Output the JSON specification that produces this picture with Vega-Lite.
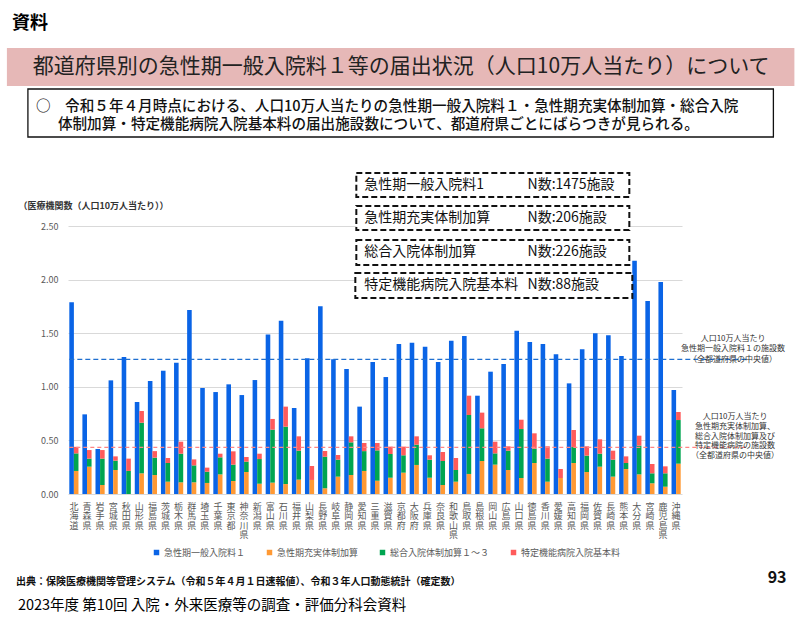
{
  "$schema": "https://vega.github.io/schema/vega-lite/v6.json",
  "autosize": {"type": "none"},
  "width": 614,
  "height": 268,
  "padding": {"left": 68, "top": 226, "right": 123, "bottom": 132},
  "background": "white",
  "config": {"view": {"stroke": null}, "font": "Noto Sans CJK JP", "text": {"font": "Noto Sans CJK JP"}},
  "resolve": {"axis": {"x": "independent", "y": "independent"}},
  "datasets": {
    "main": [
      {"pref": "北海道", "ippan": 1.788, "jujitsu": 0.215, "sogo": 0.164, "tokutei": 0.061},
      {"pref": "青森県", "ippan": 0.743, "jujitsu": 0.255, "sogo": 0.075, "tokutei": 0.08},
      {"pref": "岩手県", "ippan": 0.42, "jujitsu": 0.084, "sogo": 0.246, "tokutei": 0.08},
      {"pref": "宮城県", "ippan": 1.06, "jujitsu": 0.224, "sogo": 0.087, "tokutei": 0.04},
      {"pref": "秋田県", "ippan": 1.278, "jujitsu": 0, "sogo": 0.215, "tokutei": 0.115},
      {"pref": "山形県", "ippan": 0.858, "jujitsu": 0.193, "sogo": 0.472, "tokutei": 0.109},
      {"pref": "福島県", "ippan": 1.054, "jujitsu": 0.177, "sogo": 0.162, "tokutei": 0.061},
      {"pref": "茨城県", "ippan": 1.15, "jujitsu": 0.115, "sogo": 0.174, "tokutei": 0.047},
      {"pref": "栃木県", "ippan": 1.225, "jujitsu": 0.109, "sogo": 0.267, "tokutei": 0.112},
      {"pref": "群馬県", "ippan": 1.716, "jujitsu": 0.109, "sogo": 0.158, "tokutei": 0.056},
      {"pref": "埼玉県", "ippan": 0.989, "jujitsu": 0.103, "sogo": 0.105, "tokutei": 0.038},
      {"pref": "千葉県", "ippan": 0.951, "jujitsu": 0.183, "sogo": 0.159, "tokutei": 0.034},
      {"pref": "東京都", "ippan": 1.023, "jujitsu": 0.121, "sogo": 0.153, "tokutei": 0.124},
      {"pref": "神奈川県", "ippan": 0.923, "jujitsu": 0.205, "sogo": 0.097, "tokutei": 0.043},
      {"pref": "新潟県", "ippan": 1.063, "jujitsu": 0.096, "sogo": 0.23, "tokutei": 0.05},
      {"pref": "富山県", "ippan": 1.489, "jujitsu": 0.106, "sogo": 0.494, "tokutei": 0.1},
      {"pref": "石川県", "ippan": 1.617, "jujitsu": 0.093, "sogo": 0.535, "tokutei": 0.187},
      {"pref": "福井県", "ippan": 0.802, "jujitsu": 0.134, "sogo": 0.27, "tokutei": 0.134},
      {"pref": "山梨県", "ippan": 1.266, "jujitsu": 0.131, "sogo": 0, "tokutei": 0.13},
      {"pref": "長野県", "ippan": 1.751, "jujitsu": 0.053, "sogo": 0.295, "tokutei": 0.052},
      {"pref": "岐阜県", "ippan": 1.256, "jujitsu": 0.162, "sogo": 0.158, "tokutei": 0.044},
      {"pref": "静岡県", "ippan": 1.166, "jujitsu": 0.177, "sogo": 0.305, "tokutei": 0.056},
      {"pref": "愛知県", "ippan": 0.815, "jujitsu": 0.215, "sogo": 0.185, "tokutei": 0.076},
      {"pref": "三重県", "ippan": 1.231, "jujitsu": 0.124, "sogo": 0.283, "tokutei": 0.069},
      {"pref": "滋賀県", "ippan": 1.091, "jujitsu": 0.152, "sogo": 0.221, "tokutei": 0.069},
      {"pref": "京都府", "ippan": 1.399, "jujitsu": 0.199, "sogo": 0.162, "tokutei": 0.081},
      {"pref": "大阪府", "ippan": 1.412, "jujitsu": 0.271, "sogo": 0.189, "tokutei": 0.078},
      {"pref": "兵庫県", "ippan": 1.374, "jujitsu": 0.152, "sogo": 0.168, "tokutei": 0.041},
      {"pref": "奈良県", "ippan": 1.231, "jujitsu": 0.084, "sogo": 0.224, "tokutei": 0.084},
      {"pref": "和歌山県", "ippan": 1.43, "jujitsu": 0.115, "sogo": 0.109, "tokutei": 0.112},
      {"pref": "鳥取県", "ippan": 1.474, "jujitsu": 0.187, "sogo": 0.55, "tokutei": 0.18},
      {"pref": "島根県", "ippan": 0.917, "jujitsu": 0.308, "sogo": 0.305, "tokutei": 0.146},
      {"pref": "岡山県", "ippan": 1.141, "jujitsu": 0.274, "sogo": 0.105, "tokutei": 0.109},
      {"pref": "広島県", "ippan": 1.213, "jujitsu": 0.224, "sogo": 0.18, "tokutei": 0.041},
      {"pref": "山口県", "ippan": 1.524, "jujitsu": 0.149, "sogo": 0.457, "tokutei": 0.087},
      {"pref": "徳島県", "ippan": 1.418, "jujitsu": 0.289, "sogo": 0.134, "tokutei": 0.143},
      {"pref": "香川県", "ippan": 1.399, "jujitsu": 0.115, "sogo": 0.215, "tokutei": 0.115},
      {"pref": "愛媛県", "ippan": 1.303, "jujitsu": 0.149, "sogo": 0, "tokutei": 0.084},
      {"pref": "高知県", "ippan": 1.032, "jujitsu": 0.289, "sogo": 0.149, "tokutei": 0.159},
      {"pref": "福岡県", "ippan": 1.35, "jujitsu": 0.205, "sogo": 0.153, "tokutei": 0.087},
      {"pref": "佐賀県", "ippan": 1.499, "jujitsu": 0.255, "sogo": 0.121, "tokutei": 0.134},
      {"pref": "長崎県", "ippan": 1.48, "jujitsu": 0.162, "sogo": 0.158, "tokutei": 0.084},
      {"pref": "熊本県", "ippan": 1.287, "jujitsu": 0.233, "sogo": 0.056, "tokutei": 0.062},
      {"pref": "大分県", "ippan": 2.177, "jujitsu": 0.183, "sogo": 0.268, "tokutei": 0.093},
      {"pref": "宮崎県", "ippan": 1.8, "jujitsu": 0.1, "sogo": 0.093, "tokutei": 0.087},
      {"pref": "鹿児島県", "ippan": 1.978, "jujitsu": 0.068, "sogo": 0.125, "tokutei": 0.065},
      {"pref": "沖縄県", "ippan": 0.97, "jujitsu": 0.283, "sogo": 0.407, "tokutei": 0.075}
    ]
  },
  "layer": [
    {
      "data": {"name": "main"},
      "mark": {"type": "bar"},
      "encoding": {
        "x": {
          "field": "pref", "type": "nominal", "title": null,
          "scale": {"domain": ["北海道","青森県","岩手県","宮城県","秋田県","山形県","福島県","茨城県","栃木県","群馬県","埼玉県","千葉県","東京都","神奈川県","新潟県","富山県","石川県","福井県","山梨県","長野県","岐阜県","静岡県","愛知県","三重県","滋賀県","京都府","大阪府","兵庫県","奈良県","和歌山県","鳥取県","島根県","岡山県","広島県","山口県","徳島県","香川県","愛媛県","高知県","福岡県","佐賀県","長崎県","熊本県","大分県","宮崎県","鹿児島県","沖縄県"], "paddingInner": 0.3, "paddingOuter": 0.1},
          "axis": {"labelExpr": "split(datum.label, '')", "labelAngle": 0, "labelFontSize": 9, "labelColor": "#595959", "labelLineHeight": 9.6, "labelPadding": 8, "labelBaseline": "top", "labelOverlap": false, "labelBound": false, "ticks": false, "domain": false, "grid": false, "title": null}
        },
        "xOffset": {"datum": "A", "scale": {"domain": ["A", "B"], "paddingInner": 0, "paddingOuter": 0}},
        "y": {
          "field": "ippan", "type": "quantitative",
          "scale": {"domain": [0, 2.5], "nice": false},
          "axis": {"values": [0, 0.5, 1, 1.5, 2, 2.5], "format": ".2f", "grid": true, "gridColor": "#d9d9d9", "gridWidth": 1.2, "ticks": false, "domain": false, "labelPadding": 10, "labelFontSize": 9, "labelColor": "#595959", "title": "（医療機関数（人口10万人当たり））", "titleAngle": 0, "titleAlign": "left", "titleBaseline": "middle", "titleX": -50, "titleY": -21, "titleFontSize": 9, "titleFontWeight": "bold", "titleColor": "#333333"}
        },
        "color": {
          "datum": "ippan",
          "scale": {"domain": ["ippan", "jujitsu", "sogo", "tokutei"], "range": ["#0A64E6", "#FF9933", "#00A550", "#FF5B5B"]},
          "legend": {"orient": "none", "legendX": 84, "legendY": 322, "direction": "horizontal", "title": null, "symbolType": "square", "symbolSize": 30, "symbolStrokeWidth": 0, "labelFontSize": 9, "labelColor": "#595959", "columnPadding": 19, "gridAlign": "none", "labelOffset": 3, "padding": 0,
            "labelExpr": "{'ippan':'急性期一般入院料１','jujitsu':'急性期充実体制加算','sogo':'総合入院体制加算１～３','tokutei':'特定機能病院入院基本料'}[datum.label]"}
        }
      }
    },
    {
      "data": {"name": "main"},
      "transform": [{"fold": ["jujitsu", "sogo", "tokutei"], "as": ["type", "value"]}],
      "mark": {"type": "bar"},
      "encoding": {
        "x": {"field": "pref", "type": "nominal", "axis": null},
        "xOffset": {"datum": "B"},
        "y": {"field": "value", "type": "quantitative", "stack": "zero", "axis": null},
        "color": {"field": "type", "type": "nominal", "legend": null},
        "order": {"field": "type", "sort": "ascending"}
      }
    },
    {
      "data": {"values": [{}]},
      "mark": {"type": "rule", "color": "#1F6FD0", "strokeDash": [5, 3], "strokeWidth": 1.2},
      "encoding": {"x": {"datum": "北海道", "bandPosition": 0, "axis": null}, "x2": {"value": {"expr": "width + 66"}}, "y": {"datum": 1.256, "axis": null}}
    },
    {
      "data": {"values": [{}]},
      "mark": {"type": "rule", "color": "#FF8585", "strokeDash": [4, 3], "strokeWidth": 1.2},
      "encoding": {"x": {"datum": "北海道", "bandPosition": 0, "axis": null}, "x2": {"value": {"expr": "width + 66"}}, "y": {"datum": 0.435, "axis": null}}
    },
    {
      "data": {"values": [{}]},
      "mark": {"type": "text", "fontSize": 8, "lineHeight": 10.5, "align": "center", "baseline": "middle", "color": "#333333", "dx": 57},
      "encoding": {"x": {"datum": "沖縄県", "axis": null}, "y": {"datum": 1.446, "axis": null}, "text": {"value": ["人口10万人当たり", "急性期一般入院料１の施設数", "（全都道府県の中央値）"]}}
    },
    {
      "data": {"values": [{}]},
      "mark": {"type": "text", "fontSize": 8, "lineHeight": 9.8, "align": "center", "baseline": "middle", "color": "#333333", "dx": 59},
      "encoding": {"x": {"datum": "沖縄県", "axis": null}, "y": {"datum": 0.718, "axis": null}, "text": {"value": ["人口10万人当たり", "急性期充実体制加算、", "総合入院体制加算及び", "特定機能病院の施設数", "（全都道府県の中央値）"]}}
    },
    {
      "data": {"values": [{}]},
      "mark": {"type": "rect", "fill": "white", "stroke": "#111111", "strokeWidth": 2, "strokeDash": [6, 3], "xOffset": -1, "x2Offset": 1},
      "encoding": {"x": {"datum": "愛知県", "bandPosition": 0, "axis": null}, "x2": {"datum": "熊本県", "bandPosition": 1}, "y": {"datum": 2.994, "axis": null}, "y2": {"datum": 2.771}}
    },
    {
      "data": {"values": [{}]},
      "mark": {"type": "rect", "fill": "white", "stroke": "#111111", "strokeWidth": 2, "strokeDash": [6, 3], "xOffset": -1, "x2Offset": 1},
      "encoding": {"x": {"datum": "愛知県", "bandPosition": 0, "axis": null}, "x2": {"datum": "熊本県", "bandPosition": 1}, "y": {"datum": 2.687, "axis": null}, "y2": {"datum": 2.463}}
    },
    {
      "data": {"values": [{}]},
      "mark": {"type": "rect", "fill": "white", "stroke": "#111111", "strokeWidth": 2, "strokeDash": [6, 3], "xOffset": -1, "x2Offset": 1},
      "encoding": {"x": {"datum": "愛知県", "bandPosition": 0, "axis": null}, "x2": {"datum": "熊本県", "bandPosition": 1}, "y": {"datum": 2.369, "axis": null}, "y2": {"datum": 2.136}}
    },
    {
      "data": {"values": [{}]},
      "mark": {"type": "rect", "fill": "white", "stroke": "#111111", "strokeWidth": 2, "strokeDash": [6, 3], "xOffset": -2, "x2Offset": 4},
      "encoding": {"x": {"datum": "愛知県", "bandPosition": 0, "axis": null}, "x2": {"datum": "熊本県", "bandPosition": 1}, "y": {"datum": 2.062, "axis": null}, "y2": {"datum": 1.828}}
    },
    {
      "data": {"values": [{}]},
      "mark": {"type": "text", "fontSize": 14, "align": "left", "baseline": "middle", "color": "#111111", "dx": 7},
      "encoding": {"x": {"datum": "愛知県", "bandPosition": 0, "axis": null}, "y": {"datum": 2.878, "axis": null}, "text": {"value": "急性期一般入院料1"}}
    },
    {
      "data": {"values": [{}]},
      "mark": {"type": "text", "fontSize": 14, "align": "left", "baseline": "middle", "color": "#111111", "dx": 7},
      "encoding": {"x": {"datum": "愛知県", "bandPosition": 0, "axis": null}, "y": {"datum": 2.575, "axis": null}, "text": {"value": "急性期充実体制加算"}}
    },
    {
      "data": {"values": [{}]},
      "mark": {"type": "text", "fontSize": 14, "align": "left", "baseline": "middle", "color": "#111111", "dx": 7},
      "encoding": {"x": {"datum": "愛知県", "bandPosition": 0, "axis": null}, "y": {"datum": 2.253, "axis": null}, "text": {"value": "総合入院体制加算"}}
    },
    {
      "data": {"values": [{}]},
      "mark": {"type": "text", "fontSize": 14, "align": "left", "baseline": "middle", "color": "#111111", "dx": 7},
      "encoding": {"x": {"datum": "愛知県", "bandPosition": 0, "axis": null}, "y": {"datum": 1.945, "axis": null}, "text": {"value": "特定機能病院入院基本料"}}
    },
    {
      "data": {"values": [{}]},
      "mark": {"type": "text", "fontSize": 14, "align": "left", "baseline": "middle", "color": "#111111"},
      "encoding": {"x": {"datum": "徳島県", "bandPosition": 0, "axis": null}, "y": {"datum": 2.878, "axis": null}, "text": {"value": "N数:1475施設"}}
    },
    {
      "data": {"values": [{}]},
      "mark": {"type": "text", "fontSize": 14, "align": "left", "baseline": "middle", "color": "#111111"},
      "encoding": {"x": {"datum": "徳島県", "bandPosition": 0, "axis": null}, "y": {"datum": 2.575, "axis": null}, "text": {"value": "N数:206施設"}}
    },
    {
      "data": {"values": [{}]},
      "mark": {"type": "text", "fontSize": 14, "align": "left", "baseline": "middle", "color": "#111111"},
      "encoding": {"x": {"datum": "徳島県", "bandPosition": 0, "axis": null}, "y": {"datum": 2.253, "axis": null}, "text": {"value": "N数:226施設"}}
    },
    {
      "data": {"values": [{}]},
      "mark": {"type": "text", "fontSize": 14, "align": "left", "baseline": "middle", "color": "#111111"},
      "encoding": {"x": {"datum": "徳島県", "bandPosition": 0, "axis": null}, "y": {"datum": 1.945, "axis": null}, "text": {"value": "N数:88施設"}}
    },
    {
      "data": {"values": [{}]},
      "mark": {"type": "text", "fontSize": 18, "fontWeight": "bold", "align": "left", "baseline": "middle", "color": "#000000", "dx": -57.4},
      "encoding": {"x": {"datum": "北海道", "bandPosition": 0, "axis": null}, "y": {"datum": 4.384, "axis": null}, "text": {"value": "資料"}}
    },
    {
      "data": {"values": [{}]},
      "mark": {"type": "rect", "fill": "#E6B8B7", "xOffset": -62.4, "x2Offset": 113.7},
      "encoding": {"x": {"datum": "北海道", "bandPosition": 0, "axis": null}, "x2": {"datum": "沖縄県", "bandPosition": 1}, "y": {"datum": 4.16, "axis": null}, "y2": {"datum": 3.806}}
    },
    {
      "data": {"values": [{}]},
      "mark": {"type": "text", "fontSize": 21, "align": "center", "baseline": "middle", "color": "#222222"},
      "encoding": {"x": {"datum": "京都府", "axis": null}, "y": {"datum": 3.983, "axis": null}, "text": {"value": "都道府県別の急性期一般入院料１等の届出状況（人口10万人当たり）について"}}
    },
    {
      "data": {"values": [{}]},
      "mark": {"type": "rect", "fill": "white", "stroke": "#111111", "strokeWidth": 1.3, "xOffset": -41.4, "x2Offset": 92.7},
      "encoding": {"x": {"datum": "北海道", "bandPosition": 0, "axis": null}, "x2": {"datum": "沖縄県", "bandPosition": 1}, "y": {"datum": 3.778, "axis": null}, "y2": {"datum": 3.33}}
    },
    {
      "data": {"values": [{}]},
      "mark": {"type": "text", "fontSize": 14.6, "fontWeight": 500, "align": "left", "baseline": "middle", "color": "#111111", "dx": -33.4},
      "encoding": {"x": {"datum": "北海道", "bandPosition": 0, "axis": null}, "y": {"datum": 3.612, "axis": null}, "text": {"value": "○　令和５年４月時点における、人口10万人当たりの急性期一般入院料１・急性期充実体制加算・総合入院"}}
    },
    {
      "data": {"values": [{}]},
      "mark": {"type": "text", "fontSize": 14.6, "fontWeight": 500, "align": "left", "baseline": "middle", "color": "#111111", "dx": -11.4},
      "encoding": {"x": {"datum": "北海道", "bandPosition": 0, "axis": null}, "y": {"datum": 3.44, "axis": null}, "text": {"value": "体制加算・特定機能病院入院基本料の届出施設数について、都道府県ごとにばらつきが見られる。"}}
    },
    {
      "data": {"values": [{}]},
      "mark": {"type": "text", "fontSize": 10, "fontWeight": "bold", "align": "left", "baseline": "middle", "color": "#111111", "dx": -53.4},
      "encoding": {"x": {"datum": "北海道", "bandPosition": 0, "axis": null}, "y": {"datum": -0.821, "axis": null}, "text": {"value": "出典：保険医療機関等管理システム（令和５年４月１日速報値）、令和３年人口動態統計（確定数）"}}
    },
    {
      "data": {"values": [{}]},
      "mark": {"type": "text", "fontSize": 16, "fontWeight": "bold", "align": "center", "baseline": "middle", "color": "#111111", "dx": 101},
      "encoding": {"x": {"datum": "沖縄県", "axis": null}, "y": {"datum": -0.784, "axis": null}, "text": {"value": "93"}}
    },
    {
      "data": {"values": [{}]},
      "mark": {"type": "text", "fontSize": 14.5, "align": "left", "baseline": "middle", "color": "#000000", "dx": -51.4},
      "encoding": {"x": {"datum": "北海道", "bandPosition": 0, "axis": null}, "y": {"datum": -1.045, "axis": null}, "text": {"value": "2023年度 第10回 入院・外来医療等の調査・評価分科会資料"}}
    }
  ]
}
